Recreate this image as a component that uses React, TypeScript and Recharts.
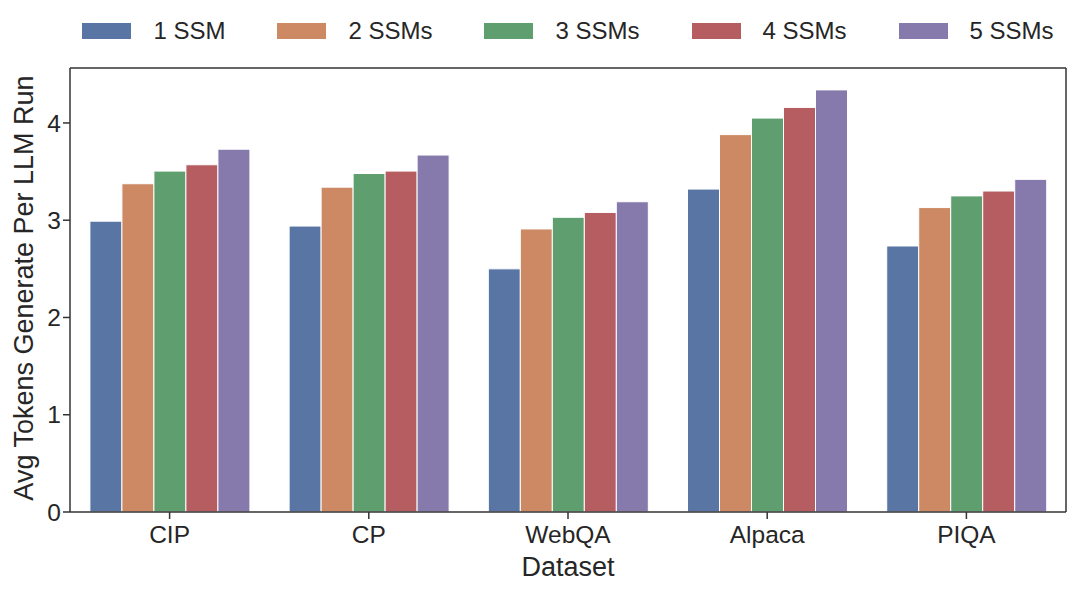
import React from "react";
import {
  BarChart,
  Bar,
  XAxis,
  YAxis,
  Legend,
  CartesianGrid,
} from "recharts";

const datasets = ["CIP", "CP", "WebQA", "Alpaca", "PIQA"];
const seriesNames = ["1 SSM", "2 SSMs", "3 SSMs", "4 SSMs", "5 SSMs"];
const ssm1 = [2.99, 2.94, 2.5, 3.32, 2.735];
const ssm2 = [3.375, 3.34, 2.91, 3.88, 3.13];
const ssm3 = [3.505, 3.48, 3.03, 4.05, 3.25];
const ssm4 = [3.57, 3.505, 3.08, 4.16, 3.3];
const ssm5 = [3.73, 3.67, 3.19, 4.34, 3.42];
const yTicks = [0, 1, 2, 3, 4];
const yMax = 4.565;

const colors = ["#5975a4", "#cc8963", "#5f9e6e", "#b55d60", "#857aab"];
const allSeries = [ssm1, ssm2, ssm3, ssm4, ssm5];

const data = datasets.map((name, i) => {
  const row: Record<string, string | number> = { name };
  seriesNames.forEach((s, j) => {
    row[s] = allSeries[j][i];
  });
  return row;
});

const FONT = "'Liberation Sans', Arial, sans-serif";
const INK = "#262626";
const AXIS = "#333333";

const LegendRow = () => (
  <div
    style={{
      display: "flex",
      justifyContent: "center",
      alignItems: "center",
      marginLeft: 70,
      width: 996,
      height: 28,
      fontFamily: FONT,
      fontSize: 24,
      color: INK,
    }}
  >
    {seriesNames.map((s, i) => (
      <div
        key={s}
        style={{
          display: "flex",
          alignItems: "center",
          marginRight: i < seriesNames.length - 1 ? 52 : 0,
        }}
      >
        <span
          style={{
            display: "inline-block",
            width: 49,
            height: 16,
            background: colors[i],
            marginRight: 22,
          }}
        />
        <span>{s}</span>
      </div>
    ))}
  </div>
);

const YLabel = (props: any) => {
  const vb = props.viewBox || {};
  const cx = 24;
  const cy = vb.y + vb.height / 2 - 2;
  return (
    <text
      x={cx}
      y={cy}
      transform={`rotate(-90, ${cx}, ${cy})`}
      textAnchor="middle"
      dominantBaseline="central"
      fontFamily={FONT}
      fontSize={27}
      fill={INK}
    >
      Avg Tokens Generate Per LLM Run
    </text>
  );
};

export default function App() {
  const tickStyle = { fontFamily: FONT, fontSize: 24.5, fill: INK };
  return (
    <div style={{ position: "absolute", left: 0, top: 0, width: 1080, height: 592, background: "#fff" }}>
      <BarChart
        width={1080}
        height={592}
        data={data}
        margin={{ top: 40, right: 14, left: 0, bottom: 0 }}
        barCategoryGap="10%"
        barGap={0}
      >
        <Legend
          verticalAlign="top"
          height={28}
          content={() => <LegendRow />}
          wrapperStyle={{ top: 17, left: 0, width: 1080, height: 28 }}
        />
        {/* top and right spines of the frame */}
        <CartesianGrid
          strokeDasharray=""
          stroke={AXIS}
          strokeWidth={1.5}
          horizontalCoordinatesGenerator={({ offset }: any) => [offset.top]}
          verticalCoordinatesGenerator={({ offset }: any) => [offset.left + offset.width]}
        />
        <XAxis
          dataKey="name"
          height={80}
          tick={tickStyle}
          tickSize={7}
          tickMargin={7}
          tickLine={{ stroke: AXIS, strokeWidth: 1.5 }}
          axisLine={{ stroke: AXIS, strokeWidth: 1.5 }}
          label={{
            value: "Dataset",
            position: "insideBottom",
            offset: 16,
            style: { fontFamily: FONT, fontSize: 27, fill: INK },
          }}
        />
        <YAxis
          width={70}
          domain={[0, yMax]}
          ticks={yTicks}
          allowDataOverflow
          tick={tickStyle}
          tickSize={7}
          tickMargin={2}
          tickLine={{ stroke: AXIS, strokeWidth: 1.5 }}
          axisLine={{ stroke: AXIS, strokeWidth: 1.5 }}
          label={<YLabel />}
        />
        {seriesNames.map((s, i) => (
          <Bar
            key={s}
            dataKey={s}
            fill={colors[i]}
            stroke="#ffffff"
            strokeWidth={1}
            isAnimationActive={false}
          />
        ))}
      </BarChart>
    </div>
  );
}
